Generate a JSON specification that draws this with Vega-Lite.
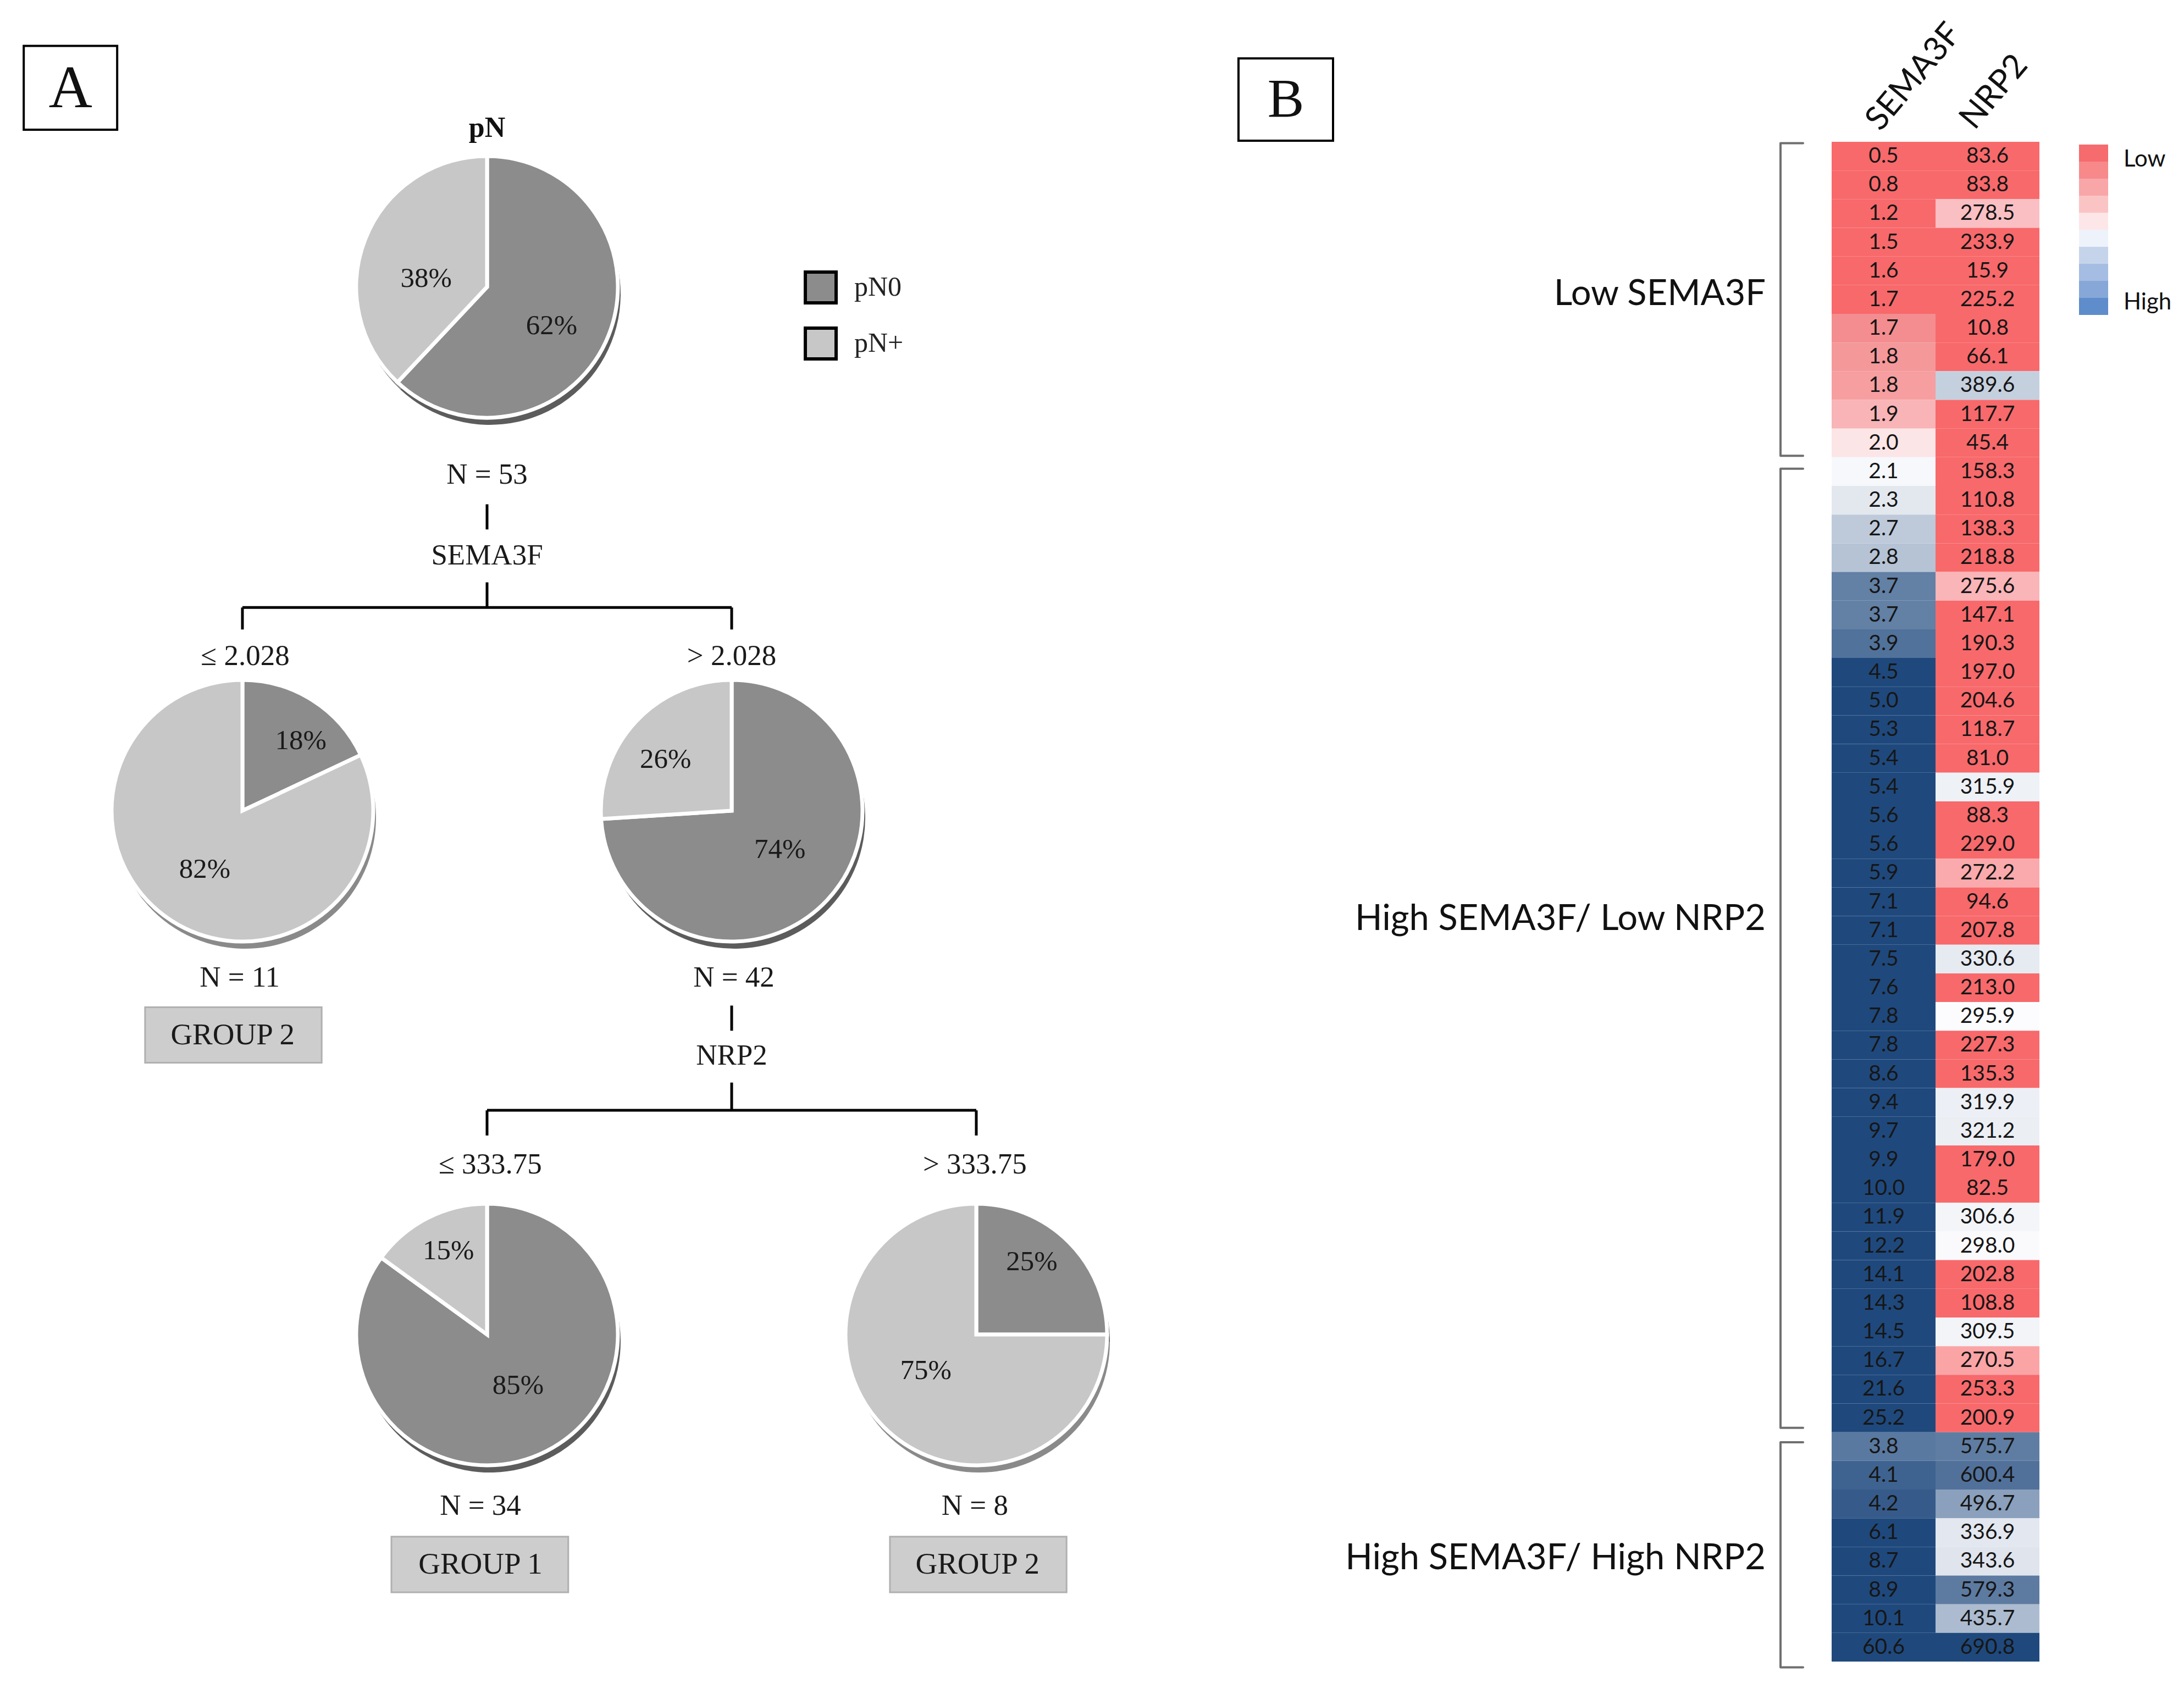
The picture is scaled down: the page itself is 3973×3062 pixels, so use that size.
{
  "$schema": "https://vega.github.io/schema/vega-lite/v6.json",
  "width": 3973,
  "height": 3062,
  "autosize": "none",
  "padding": 0,
  "background": "white",
  "config": {"view": {"stroke": null}},
  "datasets": {
    "pies": [
      {"node": "root", "c": 1, "l": 0, "cls": "pN0", "pct": 62},
      {"node": "root", "c": 1, "l": 0, "cls": "pN+", "pct": 38},
      {"node": "left", "c": 0, "l": 1, "cls": "pN0", "pct": 18},
      {"node": "left", "c": 0, "l": 1, "cls": "pN+", "pct": 82},
      {"node": "right", "c": 2, "l": 1, "cls": "pN0", "pct": 74},
      {"node": "right", "c": 2, "l": 1, "cls": "pN+", "pct": 26},
      {"node": "bl", "c": 1, "l": 2, "cls": "pN0", "pct": 85},
      {"node": "bl", "c": 1, "l": 2, "cls": "pN+", "pct": 15},
      {"node": "br", "c": 3, "l": 2, "cls": "pN0", "pct": 25},
      {"node": "br", "c": 3, "l": 2, "cls": "pN+", "pct": 75}
    ],
    "pctlabels": [
      {"t": "38%", "c": 0.751, "l": -0.016},
      {"t": "62%", "c": 1.264, "l": 0.074},
      {"t": "18%", "c": 0.239, "l": 0.867},
      {"t": "82%", "c": -0.154, "l": 1.112},
      {"t": "26%", "c": 1.73, "l": 0.902},
      {"t": "74%", "c": 2.197, "l": 1.074},
      {"t": "15%", "c": 0.842, "l": 1.84},
      {"t": "85%", "c": 1.127, "l": 2.098},
      {"t": "25%", "c": 3.227, "l": 1.862},
      {"t": "75%", "c": 2.794, "l": 2.069}
    ],
    "tlabels": [
      {"t": "N = 53", "c": 1, "l": 0.359},
      {"t": "SEMA3F", "c": 1, "l": 0.513},
      {"t": "≤ 2.028", "c": 0.011, "l": 0.705},
      {"t": "> 2.028", "c": 2, "l": 0.705},
      {"t": "N = 11", "c": -0.011, "l": 1.319},
      {"t": "N = 42", "c": 2.009, "l": 1.319},
      {"t": "NRP2", "c": 2, "l": 1.468},
      {"t": "≤ 333.75", "c": 1.013, "l": 1.676},
      {"t": "> 333.75", "c": 2.994, "l": 1.676},
      {"t": "N = 34", "c": 0.973, "l": 2.327},
      {"t": "N = 8", "c": 2.994, "l": 2.327}
    ],
    "grouplabels": [
      {"t": "GROUP 2", "c": -0.04, "l": 1.428},
      {"t": "GROUP 1", "c": 0.973, "l": 2.439},
      {"t": "GROUP 2", "c": 3.005, "l": 2.439}
    ],
    "links": [
      {"c": 1, "l": 0.415, "c2": 1, "l2": 0.463},
      {"c": 1, "l": 0.564, "c2": 1, "l2": 0.612},
      {"c": 0, "l": 0.612, "c2": 2, "l2": 0.612},
      {"c": 0, "l": 0.612, "c2": 0, "l2": 0.654},
      {"c": 2, "l": 0.612, "c2": 2, "l2": 0.654},
      {"c": 2, "l": 1.372, "c2": 2, "l2": 1.42},
      {"c": 2, "l": 1.519, "c2": 2, "l2": 1.572},
      {"c": 1, "l": 1.572, "c2": 3, "l2": 1.572},
      {"c": 1, "l": 1.572, "c2": 1, "l2": 1.62},
      {"c": 3, "l": 1.572, "c2": 3, "l2": 1.62}
    ],
    "boxes": [
      {"c": -0.398, "c2": 0.324, "l": 1.375, "l2": 1.481},
      {"c": 0.609, "c2": 1.332, "l": 2.386, "l2": 2.492},
      {"c": 2.647, "c2": 3.369, "l": 2.386, "l2": 2.492}
    ],
    "heat": [
      {"r": 1, "g": "SEMA3F", "v": 0.5}, {"r": 1, "g": "NRP2", "v": 83.6},
      {"r": 2, "g": "SEMA3F", "v": 0.8}, {"r": 2, "g": "NRP2", "v": 83.8},
      {"r": 3, "g": "SEMA3F", "v": 1.2}, {"r": 3, "g": "NRP2", "v": 278.5},
      {"r": 4, "g": "SEMA3F", "v": 1.5}, {"r": 4, "g": "NRP2", "v": 233.9},
      {"r": 5, "g": "SEMA3F", "v": 1.6}, {"r": 5, "g": "NRP2", "v": 15.9},
      {"r": 6, "g": "SEMA3F", "v": 1.7}, {"r": 6, "g": "NRP2", "v": 225.2},
      {"r": 7, "g": "SEMA3F", "v": 1.74}, {"r": 7, "g": "NRP2", "v": 10.8},
      {"r": 8, "g": "SEMA3F", "v": 1.78}, {"r": 8, "g": "NRP2", "v": 66.1},
      {"r": 9, "g": "SEMA3F", "v": 1.8}, {"r": 9, "g": "NRP2", "v": 389.6},
      {"r": 10, "g": "SEMA3F", "v": 1.88}, {"r": 10, "g": "NRP2", "v": 117.7},
      {"r": 11, "g": "SEMA3F", "v": 2.0}, {"r": 11, "g": "NRP2", "v": 45.4},
      {"r": 12, "g": "SEMA3F", "v": 2.08}, {"r": 12, "g": "NRP2", "v": 158.3},
      {"r": 13, "g": "SEMA3F", "v": 2.3}, {"r": 13, "g": "NRP2", "v": 110.8},
      {"r": 14, "g": "SEMA3F", "v": 2.7}, {"r": 14, "g": "NRP2", "v": 138.3},
      {"r": 15, "g": "SEMA3F", "v": 2.8}, {"r": 15, "g": "NRP2", "v": 218.8},
      {"r": 16, "g": "SEMA3F", "v": 3.7}, {"r": 16, "g": "NRP2", "v": 275.6},
      {"r": 17, "g": "SEMA3F", "v": 3.7}, {"r": 17, "g": "NRP2", "v": 147.1},
      {"r": 18, "g": "SEMA3F", "v": 3.9}, {"r": 18, "g": "NRP2", "v": 190.3},
      {"r": 19, "g": "SEMA3F", "v": 4.5}, {"r": 19, "g": "NRP2", "v": 197.0},
      {"r": 20, "g": "SEMA3F", "v": 5.0}, {"r": 20, "g": "NRP2", "v": 204.6},
      {"r": 21, "g": "SEMA3F", "v": 5.3}, {"r": 21, "g": "NRP2", "v": 118.7},
      {"r": 22, "g": "SEMA3F", "v": 5.4}, {"r": 22, "g": "NRP2", "v": 81.0},
      {"r": 23, "g": "SEMA3F", "v": 5.4}, {"r": 23, "g": "NRP2", "v": 315.9},
      {"r": 24, "g": "SEMA3F", "v": 5.6}, {"r": 24, "g": "NRP2", "v": 88.3},
      {"r": 25, "g": "SEMA3F", "v": 5.6}, {"r": 25, "g": "NRP2", "v": 229.0},
      {"r": 26, "g": "SEMA3F", "v": 5.9}, {"r": 26, "g": "NRP2", "v": 272.2},
      {"r": 27, "g": "SEMA3F", "v": 7.1}, {"r": 27, "g": "NRP2", "v": 94.6},
      {"r": 28, "g": "SEMA3F", "v": 7.1}, {"r": 28, "g": "NRP2", "v": 207.8},
      {"r": 29, "g": "SEMA3F", "v": 7.5}, {"r": 29, "g": "NRP2", "v": 330.6},
      {"r": 30, "g": "SEMA3F", "v": 7.6}, {"r": 30, "g": "NRP2", "v": 213.0},
      {"r": 31, "g": "SEMA3F", "v": 7.8}, {"r": 31, "g": "NRP2", "v": 295.9},
      {"r": 32, "g": "SEMA3F", "v": 7.8}, {"r": 32, "g": "NRP2", "v": 227.3},
      {"r": 33, "g": "SEMA3F", "v": 8.6}, {"r": 33, "g": "NRP2", "v": 135.3},
      {"r": 34, "g": "SEMA3F", "v": 9.4}, {"r": 34, "g": "NRP2", "v": 319.9},
      {"r": 35, "g": "SEMA3F", "v": 9.7}, {"r": 35, "g": "NRP2", "v": 321.2},
      {"r": 36, "g": "SEMA3F", "v": 9.9}, {"r": 36, "g": "NRP2", "v": 179.0},
      {"r": 37, "g": "SEMA3F", "v": 10.0}, {"r": 37, "g": "NRP2", "v": 82.5},
      {"r": 38, "g": "SEMA3F", "v": 11.9}, {"r": 38, "g": "NRP2", "v": 306.6},
      {"r": 39, "g": "SEMA3F", "v": 12.2}, {"r": 39, "g": "NRP2", "v": 298.0},
      {"r": 40, "g": "SEMA3F", "v": 14.1}, {"r": 40, "g": "NRP2", "v": 202.8},
      {"r": 41, "g": "SEMA3F", "v": 14.3}, {"r": 41, "g": "NRP2", "v": 108.8},
      {"r": 42, "g": "SEMA3F", "v": 14.5}, {"r": 42, "g": "NRP2", "v": 309.5},
      {"r": 43, "g": "SEMA3F", "v": 16.7}, {"r": 43, "g": "NRP2", "v": 270.5},
      {"r": 44, "g": "SEMA3F", "v": 21.6}, {"r": 44, "g": "NRP2", "v": 253.3},
      {"r": 45, "g": "SEMA3F", "v": 25.2}, {"r": 45, "g": "NRP2", "v": 200.9},
      {"r": 46, "g": "SEMA3F", "v": 3.8}, {"r": 46, "g": "NRP2", "v": 575.7},
      {"r": 47, "g": "SEMA3F", "v": 4.1}, {"r": 47, "g": "NRP2", "v": 600.4},
      {"r": 48, "g": "SEMA3F", "v": 4.2}, {"r": 48, "g": "NRP2", "v": 496.7},
      {"r": 49, "g": "SEMA3F", "v": 6.1}, {"r": 49, "g": "NRP2", "v": 336.9},
      {"r": 50, "g": "SEMA3F", "v": 8.7}, {"r": 50, "g": "NRP2", "v": 343.6},
      {"r": 51, "g": "SEMA3F", "v": 8.9}, {"r": 51, "g": "NRP2", "v": 579.3},
      {"r": 52, "g": "SEMA3F", "v": 10.1}, {"r": 52, "g": "NRP2", "v": 435.7},
      {"r": 53, "g": "SEMA3F", "v": 60.6}, {"r": 53, "g": "NRP2", "v": 690.8}
    ],
    "brackets": [
      {"b": 1, "o": 1, "u": -0.275, "v": 0.05}, {"b": 1, "o": 2, "u": -0.492, "v": 0.05},
      {"b": 1, "o": 3, "u": -0.492, "v": 10.95}, {"b": 1, "o": 4, "u": -0.275, "v": 10.95},
      {"b": 2, "o": 1, "u": -0.275, "v": 11.4}, {"b": 2, "o": 2, "u": -0.492, "v": 11.4},
      {"b": 2, "o": 3, "u": -0.492, "v": 44.85}, {"b": 2, "o": 4, "u": -0.275, "v": 44.85},
      {"b": 3, "o": 1, "u": -0.275, "v": 45.35}, {"b": 3, "o": 2, "u": -0.492, "v": 45.35},
      {"b": 3, "o": 3, "u": -0.492, "v": 53.2}, {"b": 3, "o": 4, "u": -0.275, "v": 53.2}
    ],
    "glabels": [
      {"t": "Low SEMA3F", "u": -0.635, "v": 5.3},
      {"t": "High SEMA3F/ Low NRP2", "u": -0.635, "v": 27.1},
      {"t": "High SEMA3F/ High NRP2", "u": -0.635, "v": 49.4}
    ],
    "headers": [
      {"t": "SEMA3F", "u": 0.47, "v": -0.33},
      {"t": "NRP2", "u": 1.375, "v": -0.38}
    ],
    "steps": [
      {"step": 1}, {"step": 2}, {"step": 3}, {"step": 4}, {"step": 5},
      {"step": 6}, {"step": 7}, {"step": 8}, {"step": 9}, {"step": 10}
    ]
  },
  "layer": [
    {
      "encoding": {
        "x": {"field": "c", "type": "quantitative", "scale": {"domain": [0, 3], "range": [441, 1776], "nice": false, "zero": false}, "axis": null},
        "y": {"field": "l", "type": "quantitative", "scale": {"domain": [0, 2], "range": [522, 2428], "nice": false, "zero": false}, "axis": null}
      },
      "layer": [
        {
          "data": {"name": "pies"},
          "transform": [{"stack": "pct", "groupby": ["node"], "sort": [{"field": "cls", "order": "descending"}], "as": ["s0", "s1"]}],
          "mark": {"type": "arc", "outerRadius": 238, "xOffset": 5, "yOffset": 13, "opacity": 1},
          "encoding": {
            "theta": {"field": "s0", "type": "quantitative", "scale": {"domain": [0, 100]}},
            "theta2": {"field": "s1"},
            "color": {"field": "cls", "type": "nominal", "scale": {"domain": ["pN0", "pN+"], "range": ["#5c5c5c", "#8a8a8a"]}, "legend": null}
          }
        },
        {
          "data": {"name": "pies"},
          "transform": [{"stack": "pct", "groupby": ["node"], "sort": [{"field": "cls", "order": "descending"}], "as": ["s0", "s1"]}],
          "mark": {"type": "arc", "outerRadius": 238, "stroke": "white", "strokeWidth": 7, "opacity": 1},
          "encoding": {
            "theta": {"field": "s0", "type": "quantitative", "scale": {"domain": [0, 100]}},
            "theta2": {"field": "s1"},
            "color": {
              "field": "cls", "type": "nominal",
              "scale": {"domain": ["pN0", "pN+"], "range": ["#8c8c8c", "#c7c7c7"]},
              "legend": {
                "title": null, "orient": "none", "legendX": 1462, "legendY": 492,
                "symbolType": "square", "symbolSize": 3136, "symbolStrokeColor": "black", "symbolStrokeWidth": 6,
                "labelFont": "Liberation Serif", "labelFontSize": 50, "labelColor": "#222", "rowPadding": 22, "labelOffset": 30,
                "encode": {"symbols": {"update": {"stroke": {"value": "black"}, "strokeWidth": {"value": 6}, "opacity": {"value": 1}}}}
              }
            }
          }
        },
        {
          "data": {"name": "pctlabels"},
          "mark": {"type": "text", "font": "Liberation Serif", "fontSize": 51, "align": "center", "baseline": "middle", "color": "#1a1a1a"},
          "encoding": {"text": {"field": "t"}}
        },
        {
          "data": {"name": "tlabels"},
          "mark": {"type": "text", "font": "Liberation Serif", "fontSize": 53, "align": "center", "baseline": "middle", "color": "#1a1a1a"},
          "encoding": {"text": {"field": "t"}}
        },
        {
          "data": {"values": [{"t": "pN", "c": 1, "l": -0.303}]},
          "mark": {"type": "text", "font": "Liberation Serif", "fontSize": 52, "fontWeight": "bold", "align": "center", "baseline": "middle", "color": "#111"},
          "encoding": {"text": {"field": "t"}}
        },
        {
          "data": {"name": "links"},
          "mark": {"type": "rule", "color": "black", "strokeWidth": 5},
          "encoding": {"x2": {"field": "c2"}, "y2": {"field": "l2"}}
        },
        {
          "data": {"name": "boxes"},
          "mark": {"type": "rect", "fill": "#cdcdcd", "stroke": "#b0b0b0", "strokeWidth": 3, "opacity": 1},
          "encoding": {"x2": {"field": "c2"}, "y2": {"field": "l2"}}
        },
        {
          "data": {"name": "grouplabels"},
          "mark": {"type": "text", "font": "Liberation Serif", "fontSize": 55, "align": "center", "baseline": "middle", "color": "#1a1a1a"},
          "encoding": {"text": {"field": "t"}}
        },
        {
          "data": {"values": [{"c": -0.894, "c2": -0.512, "l": -0.46, "l2": -0.3}]},
          "mark": {"type": "rect", "fillOpacity": 0, "stroke": "black", "strokeWidth": 4},
          "encoding": {"x2": {"field": "c2"}, "y2": {"field": "l2"}}
        },
        {
          "data": {"values": [{"t": "A", "c": -0.703, "l": -0.378}]},
          "mark": {"type": "text", "font": "Liberation Serif", "fontSize": 110, "align": "center", "baseline": "middle", "color": "#111"},
          "encoding": {"text": {"field": "t"}}
        }
      ],
      "resolve": {"scale": {"color": "independent"}}
    },
    {
      "data": {"name": "heat"},
      "encoding": {
        "x": {"field": "g", "type": "nominal", "sort": ["SEMA3F", "NRP2"], "scale": {"range": [3332, 3710], "paddingInner": 0, "paddingOuter": 0}, "axis": null},
        "y": {"field": "r", "type": "ordinal", "scale": {"range": [258, 3023], "paddingInner": 0, "paddingOuter": 0}, "axis": null}
      },
      "layer": [
        {
          "transform": [{"filter": "datum.g === 'SEMA3F'"}],
          "mark": {"type": "rect", "opacity": 1},
          "encoding": {
            "color": {"field": "v", "type": "quantitative", "scale": {"type": "linear", "domain": [1.7, 1.74, 1.88, 2.0, 2.08, 4.45], "range": ["#F8696B", "#F48D8F", "#F8B4B6", "#FCE5E6", "#F7F8FB", "#1F497D"], "interpolate": "rgb", "clamp": true}, "legend": null}
          }
        },
        {
          "transform": [{"filter": "datum.g === 'NRP2'"}],
          "mark": {"type": "rect", "opacity": 1},
          "encoding": {
            "color": {"field": "v", "type": "quantitative", "scale": {"type": "linear", "domain": [253.5, 296, 300, 690.8], "range": ["#F8696B", "#FCFCFF", "#F7F8FB", "#1F497D"], "interpolate": "rgb", "clamp": true}, "legend": null}
          }
        },
        {
          "mark": {"type": "text", "font": "Lato", "fontSize": 39, "align": "center", "baseline": "middle", "color": "#161616"},
          "encoding": {"text": {"field": "v", "type": "quantitative", "format": ".1f"}}
        }
      ],
      "resolve": {"scale": {"color": "independent"}}
    },
    {
      "encoding": {
        "x": {"field": "u", "type": "quantitative", "scale": {"domain": [0, 2], "range": [3332, 3710], "nice": false, "zero": false}, "axis": null},
        "y": {"field": "v", "type": "quantitative", "scale": {"domain": [0, 53], "range": [258, 3023], "nice": false, "zero": false}, "axis": null}
      },
      "layer": [
        {
          "data": {"name": "brackets"},
          "mark": {"type": "line", "color": "#6f6f6f", "strokeWidth": 4, "strokeJoin": "round", "strokeCap": "round"},
          "encoding": {"detail": {"field": "b"}, "order": {"field": "o", "type": "quantitative"}}
        },
        {
          "data": {"name": "glabels"},
          "mark": {"type": "text", "font": "Lato", "fontSize": 65, "align": "right", "baseline": "middle", "color": "#111"},
          "encoding": {"text": {"field": "t"}}
        },
        {
          "data": {"name": "headers"},
          "mark": {"type": "text", "font": "Lato", "fontSize": 60, "align": "left", "baseline": "alphabetic", "angle": 310, "color": "#111"},
          "encoding": {"text": {"field": "t"}}
        },
        {
          "data": {"values": [{"u": -5.709, "u2": -4.799, "v": -2.91, "v2": -0.04}]},
          "mark": {"type": "rect", "fillOpacity": 0, "stroke": "black", "strokeWidth": 4},
          "encoding": {"x2": {"field": "u2"}, "y2": {"field": "v2"}}
        },
        {
          "data": {"values": [{"t": "B", "u": -5.254, "v": -1.46}]},
          "mark": {"type": "text", "font": "Liberation Serif", "fontSize": 100, "align": "center", "baseline": "middle", "color": "#111"},
          "encoding": {"text": {"field": "t"}}
        },
        {
          "data": {"values": [{"t": "Low", "u": 2.81, "v": 0.61}, {"t": "High", "u": 2.81, "v": 5.6}]},
          "mark": {"type": "text", "font": "Lato", "fontSize": 42, "align": "left", "baseline": "middle", "color": "#111"},
          "encoding": {"text": {"field": "t"}}
        }
      ]
    },
    {
      "data": {"name": "steps"},
      "mark": {"type": "rect", "opacity": 1},
      "encoding": {
        "x": {"datum": "k", "type": "nominal", "scale": {"range": [3782, 3835], "paddingInner": 0, "paddingOuter": 0}, "axis": null},
        "y": {"field": "step", "type": "ordinal", "scale": {"range": [263, 573], "paddingInner": 0, "paddingOuter": 0}, "axis": null},
        "color": {"field": "step", "type": "ordinal", "scale": {"range": ["#F66B6D", "#F7898B", "#F9A6A8", "#FAC4C5", "#FCE6E7", "#EEF2FA", "#C6D4EB", "#A5BDE2", "#86A7D8", "#5F8CCB"]}, "legend": null}
      }
    }
  ],
  "resolve": {"scale": {"x": "independent", "y": "independent", "color": "independent", "theta": "independent"}}
}
